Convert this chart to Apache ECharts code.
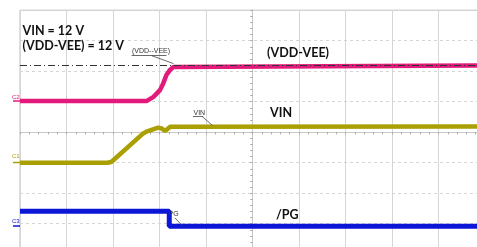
<!DOCTYPE html>
<html>
<head>
<meta charset="utf-8">
<script src="https://cdn.jsdelivr.net/npm/echarts@6/dist/echarts.min.js"></script>
<style>
  html, body { margin: 0; padding: 0; background: #fff; }
  #main { width: 477px; height: 247px; }
</style>
</head>
<body>
<div id="main"></div>
<script>
// time and level in scope divisions (center of screen = 0,0)
var vddTime  = [-5, -2.28, -2.13, -1.99, -1.92, -1.85, -1.77, -1.70, -1.69, 5];
var vddLevel = [1.02, 1.02, 1.16, 1.38, 1.60, 1.88, 2.05, 2.14, 2.19, 2.19];

var vinTime  = [-5, -3.11, -3.03, -2.35, -2.28, -2.03, -1.95, -1.88, -1.77, 5];
var vinLevel = [-1.0, -1.0, -0.97, -0.04, 0.02, 0.15, 0.12, 0.04, 0.18, 0.19];

var pgTime  = [-5, -1.79, -1.79, 5];
var pgLevel = [-2.59, -2.59, -3.08, -3.08];

var cursorLevel = 2.18; // (VDD-VEE) = 12 V cursor

var pink = '#e3197b', olive = '#aaa004', blue = '#0c16d6';

function pairs(t, v) {
    var out = [];
    for (var i = 0; i < t.length; i++) out.push([t[i], v[i]]);
    return out;
}

var grey = '#d6d6d6';
var centerAxis = function (inside) {
    return {
        type: 'value', min: -5, max: 5, interval: 1,
        axisLine: { show: true, onZero: true, lineStyle: { color: '#c8c8c8' } },
        axisTick: { show: true, inside: inside, length: 2, lineStyle: { color: '#aaa' } },
        minorTick: { show: true, splitNumber: 5, length: 2, lineStyle: { color: '#aaa' } },
        axisLabel: { show: false },
        splitLine: { show: false }
    };
};
var centerYAxis = function (inside) {
    var a = centerAxis(inside);
    a.min = -4; a.max = 4;
    return a;
};

var xMain = centerAxis(false);
xMain.splitLine = { show: true, lineStyle: { color: grey, width: 1 } };
var yMain = centerYAxis(false);
yMain.splitLine = { show: true, lineStyle: { color: grey, width: 1, type: [3, 3] } };

var smallFont = { fontFamily: 'Liberation Sans', fontSize: 7, fill: '#333' };
var chFont = { fontFamily: 'Liberation Sans', fontSize: 6 };
var bigFont = { fontFamily: 'Lato', fontWeight: 'bold', fontSize: 12.5, fill: '#111' };

function txt(x, y, s, style) {
    return { type: 'text', x: x, y: y, z: 50,
        style: Object.assign({ text: s, verticalAlign: 'middle' }, style) };
}
function ln(x1, y1, x2, y2, color, w) {
    return { type: 'line', z: 50, shape: { x1: x1, y1: y1, x2: x2, y2: y2 },
        style: { stroke: color, lineWidth: w } };
}

var option = {
    animation: false,
    backgroundColor: '#fff',
    grid: {
        left: 20, top: 10.2, width: 465, height: 244,
        outerBoundsMode: 'none', containLabel: false,
        show: true, borderColor: '#bdbdbd', borderWidth: 1
    },
    xAxis: [xMain, centerAxis(true)],
    yAxis: [yMain, centerYAxis(true)],
    series: [
        {
            name: '(VDD-VEE)', type: 'line', symbol: 'none',
            data: pairs(vddTime, vddLevel),
            lineStyle: { color: pink, width: 4.5 }, z: 3
        },
        {
            name: 'VIN', type: 'line', symbol: 'none',
            data: pairs(vinTime, vinLevel),
            lineStyle: { color: olive, width: 4.5 }, z: 3
        },
        {
            name: '/PG', type: 'line', symbol: 'none',
            data: pairs(pgTime, pgLevel),
            lineStyle: { color: blue, width: 5 }, z: 3
        },
        {
            // cursor and annotation leaders
            type: 'line', data: [], z: 6,
            markLine: {
                silent: true, symbol: 'none', label: { show: false },
                data: [
                    { yAxis: cursorLevel, lineStyle: { color: '#333', width: 1, type: [7, 3, 1, 3] } },
                    [{ coord: [-2.60, 2.51] }, { coord: [-1.85, 2.51] }],
                    [{ coord: [-2.17, 2.51] }, { coord: [-1.70, 2.25] }],
                    [{ coord: [-1.28, 0.51] }, { coord: [-1.06, 0.51] }],
                    [{ coord: [-1.08, 0.51] }, { coord: [-0.86, 0.22] }],
                    [{ coord: [-1.67, -2.81] }, { coord: [-1.49, -3.09] }]
                ],
                lineStyle: { color: '#444', width: 0.8, type: 'solid' }
            }
        }
    ],
    graphic: [
        txt(22.5, 30.5, 'VIN = 12 V', bigFont),
        txt(22.5, 45.5, '(VDD-VEE) = 12 V', bigFont),
        txt(267, 52.5, '(VDD-VEE)', bigFont),
        txt(270, 112.5, 'VIN', bigFont),
        txt(276, 215, '/PG', bigFont),
        txt(132, 51.5, '(VDD--VEE)', smallFont),
        txt(193.5, 113, 'VIN', smallFont),
        txt(168.5, 214, 'PG', smallFont),
        txt(12, 97.3, 'C2', Object.assign({ fill: pink }, chFont)),
        ln(13, 101, 20, 101, pink, 1.5),
        txt(12, 156.5, 'C1', Object.assign({ fill: olive }, chFont)),
        ln(13, 162.5, 20, 162.5, olive, 1.5),
        txt(12, 221.3, 'C3', Object.assign({ fill: blue }, chFont)),
        ln(13, 226, 20, 226, blue, 1.5)
    ]
};

var chart = echarts.init(document.getElementById('main'));
chart.setOption(option);
</script>
</body>
</html>
